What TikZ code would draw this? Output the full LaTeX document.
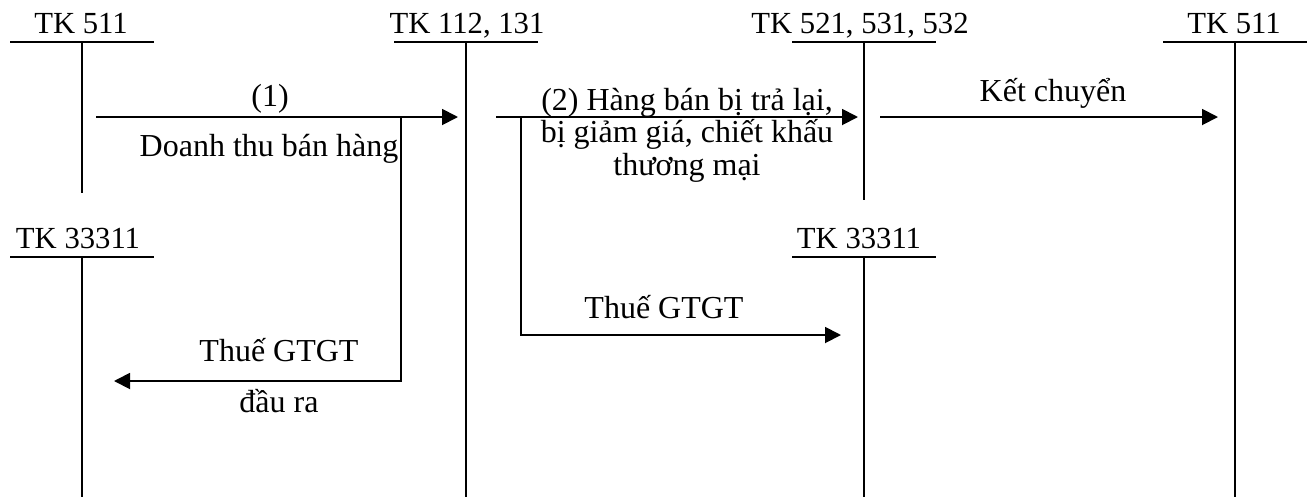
\documentclass[tikz,border=0pt]{standalone}
\usepackage{fontspec}
\setmainfont{Liberation Serif}
\usetikzlibrary{arrows.meta,positioning}

\begin{document}
\begin{tikzpicture}[x=.75pt,y=-.75pt,>={Triangle[length=12pt,width=12pt]},line width=1.4pt,
 font=\fontsize{24}{28}\selectfont,lbl/.style={anchor=base,inner sep=0pt},
 acc/.style={lbl,font=\fontsize{23}{28}\selectfont}]
\useasboundingbox (0,0) rectangle (1310,497);
% tai khoan chu T
\foreach \nm/\cx/\tx/\ty/\yb/\txt in {t511/82/81/42/193/{TK 511},t112/466/467/42/497/{TK 112, 131},
 t521/864/860/42/200/{TK 521, 531, 532},t511b/1235/1234/42/497/{TK 511},
 t333/82/78/257/497/{TK 33311},t333b/864/859/257/497/{TK 33311}}{
 \draw (\cx-72,\ty)--(\cx+72,\ty);
 \draw (\cx,\ty)--(\cx,\yb);
 \node[acc] (\nm) at (\tx,\ty-9) {\txt};
}
% (1) doanh thu
\coordinate (d1) at (96,117);
\coordinate (d2) at (458,117);
\draw[->] (d1)--(d2);
\node[lbl] (l1) at (270,106) {(1)};
\node[lbl] (l2) at (269,156) {Doanh thu bán hàng};
\coordinate (v1) at (401,117);
\coordinate (v2) at (401,381);
\coordinate (v3) at (114,381);
\draw[->] (v1)--(v2)--(v3);
\node[lbl] (l3) at (279,361) {Thuế GTGT};
\node[lbl] (l4) at (279,412) {đầu ra};
% (2) giam tru
\coordinate (g1) at (496,117);
\coordinate (g2) at (858,117);
\draw[->] (g1)--(g2);
\foreach \y/\txt in {110/{(2) Hàng bán bị trả lại,},142/{bị giảm giá, chiết khấu},175/{thương mại}}
 \node[lbl] at (687,\y) {\txt};
\coordinate (h1) at (521,117);
\coordinate (h2) at (521,335);
\coordinate (h3) at (841,335);
\draw[->] (h1)--(h2)--(h3);
\node[lbl] (l5) at (664,318) {Thuế GTGT};
% ket chuyen
\coordinate (k1) at (880,117);
\coordinate (k2) at (1218,117);
\draw[->] (k1)--(k2);
\node[lbl] (l6) at (1053,101) {Kết chuyển};
\end{tikzpicture}
\end{document}
